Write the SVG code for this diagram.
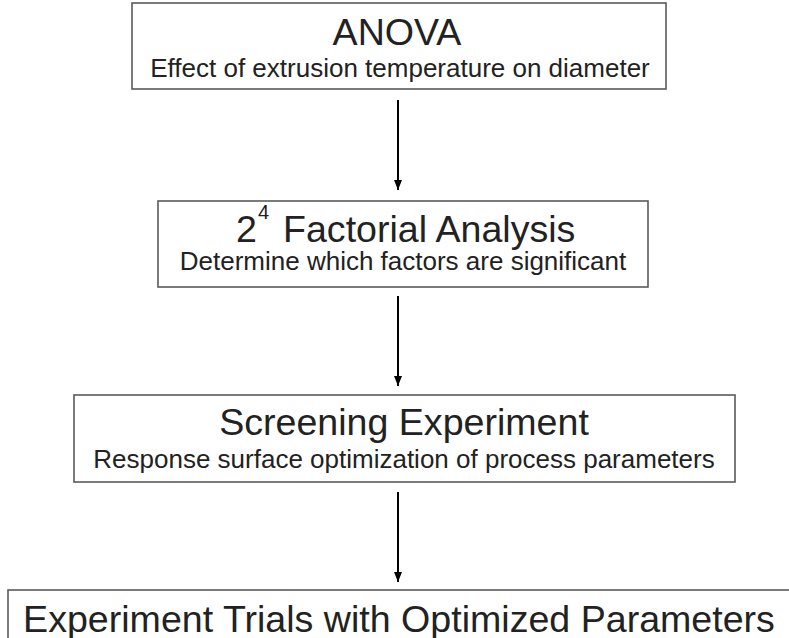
<svg xmlns="http://www.w3.org/2000/svg" width="789" height="638" viewBox="0 0 789 638">
<style>
.box{fill:#fff;stroke:#5a5a5a;stroke-width:1.6}
.title{font-family:"Liberation Sans",Arial,sans-serif;font-size:37.6px;fill:#222;text-anchor:middle}
.sub{font-family:"Liberation Sans",Arial,sans-serif;font-size:26px;fill:#222;text-anchor:middle}
.conn{stroke:#000;stroke-width:2;fill:none;marker-end:url(#ah)}
</style>
<defs>
<marker id="ah" viewBox="0 0 10 8" refX="10" refY="4" markerWidth="5" markerHeight="4" markerUnits="strokeWidth" orient="auto">
<path d="M0,0 L10,4 L0,8 z" fill="#000"/>
</marker>
</defs>
<rect width="789" height="638" fill="#fff"/>
<g id="node-anova">
<rect class="box" x="132" y="3" width="534" height="86"/>
<text class="title" x="397" y="45">ANOVA</text>
<text class="sub" x="400" y="77">Effect of extrusion temperature on diameter</text>
</g>
<g id="node-factorial">
<rect class="box" x="158" y="201" width="490" height="86"/>
<text class="title" style="text-anchor:start"><tspan x="236" y="242">2</tspan><tspan x="258" y="219" font-size="20">4</tspan><tspan x="283" y="242">Factorial Analysis</tspan></text>
<text class="sub" x="403" y="270">Determine which factors are significant</text>
</g>
<g id="node-screening">
<rect class="box" x="74" y="395" width="661" height="87"/>
<text class="title" x="404" y="435">Screening Experiment</text>
<text class="sub" x="404" y="468">Response surface optimization of process parameters</text>
</g>
<g id="node-trials">
<rect class="box" x="8" y="590" width="800" height="60"/>
<text class="title" x="399" y="632">Experiment Trials with Optimized Parameters</text>
</g>
<g id="connectors">
<line class="conn" x1="398" y1="100" x2="398" y2="190"/>
<line class="conn" x1="398" y1="296" x2="398" y2="386"/>
<line class="conn" x1="398" y1="492" x2="398" y2="582"/>
</g>
</svg>
